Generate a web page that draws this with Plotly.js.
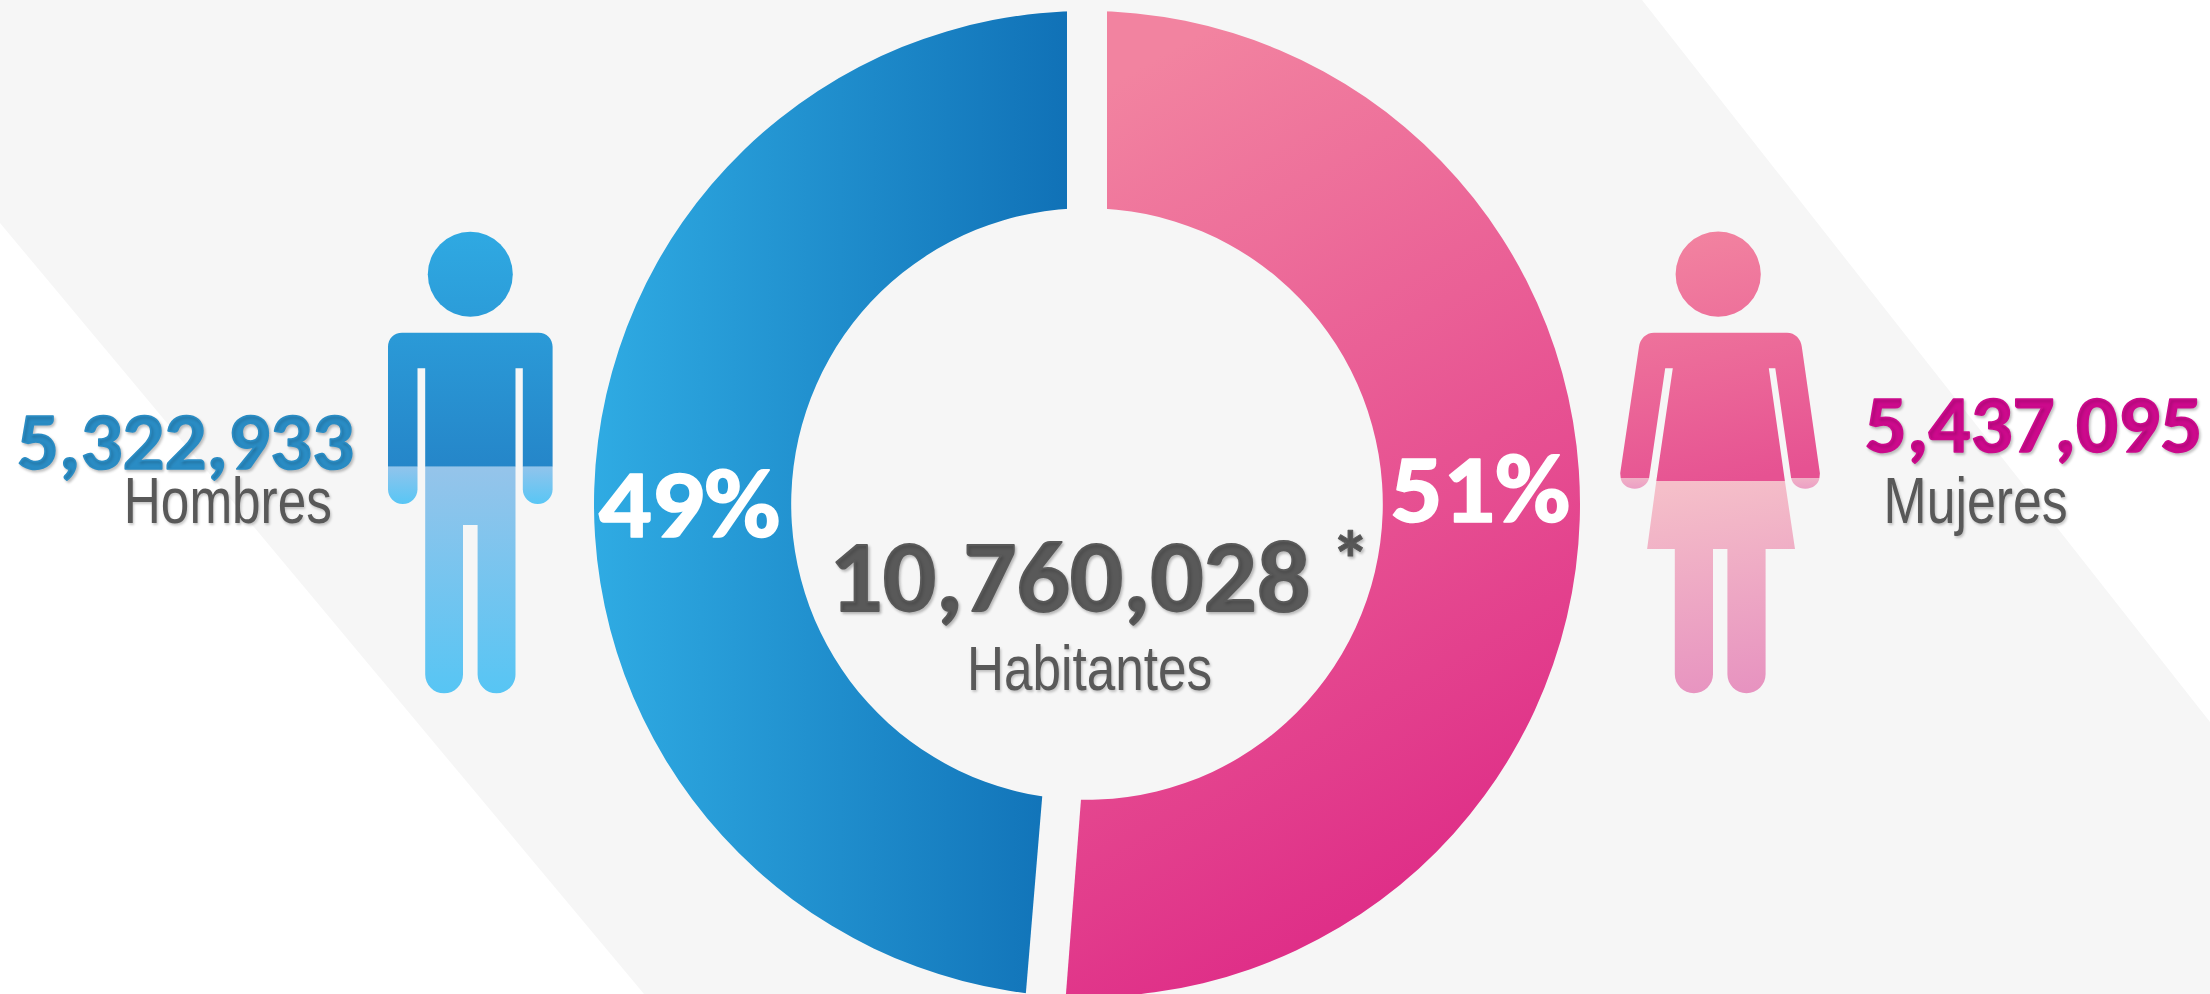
<!DOCTYPE html>
<html><head><meta charset="utf-8">
<script src="https://cdn.plot.ly/plotly-3.0.1.min.js"></script>
<style>html,body{margin:0;padding:0;width:2210px;height:994px;overflow:hidden;background:#fff}#c{width:2210px;height:1000px}</style>
</head><body><div id="c"></div>
<script>
const categories = ['Mujeres', 'Hombres'];
const percents = [51, 49];
const population = [5437095, 5322933];
const total = 10760028;

const W = 2210, H = 1000;
const fmt = n => n.toLocaleString('en-US');
const p = (x, y) => `${x / W},${1 - y / H}`;
const M = (x, y) => `M${p(x, y)}`;
const L = (x, y) => `L${p(x, y)}`;
const C = (a, b, c, d, e, f) => `C${p(a, b)} ${p(c, d)} ${p(e, f)}`;
const cap = (xr, xl, y, r) => {
  const k = 0.5523, m = (xr + xl) / 2;
  return C(xr, y + k * r, m + k * r, y + r, m, y + r) + C(m - k * r, y + r, xl, y + k * r, xl, y);
};
const poly = (pts) => pts.map((q, i) => (i ? L : M)(q[0], q[1])).join('') + 'Z';
const pathShape = (path, fillId, layer) => ({type: 'path', xref: 'paper', yref: 'paper', path, fillcolor: '#888', line: {width: 0}, layer: layer || 'above', _g: fillId});
const circle = (cx, cy, r, fillId) => ({type: 'circle', xref: 'paper', yref: 'paper', x0: (cx - r) / W, x1: (cx + r) / W, y0: 1 - (cy + r) / H, y1: 1 - (cy - r) / H, fillcolor: '#888', line: {width: 0}, layer: 'above', _g: fillId});

const BG = '#f6f6f6';
const flat = (path, color, layer) => ({type: 'path', xref: 'paper', yref: 'paper', path, fillcolor: color, line: {width: 0}, layer});

const shapesRaw = [
  flat(poly([[0, 223], [644, 994], [644, 1000], [0, 1000]]), '#ffffff', 'below'),
  flat(poly([[1642, 0], [2210, 722], [2210, 0]]), '#ffffff', 'below'),
  flat(poly([[1067, 0], [1107, 0], [1107, 230], [1067, 230]]), BG, 'above'),
  flat(poly([[1043.6, 780], [1025.3, 1000], [1065.5, 1000], [1082.5, 780]]), BG, 'above'),
  circle(470.3, 274.2, 42.5, 'manTop'),
  pathShape(M(402, 332.7) + L(538.6, 332.7) + C(546.5, 332.7, 552.6, 338.8, 552.6, 346.7) + L(552.6, 466.7) + L(522.8, 466.7) + L(522.8, 368.3) + L(515.5, 368.3) + L(515.5, 466.7) + L(425.2, 466.7) + L(425.2, 368.3) + L(417.5, 368.3) + L(417.5, 466.7) + L(388, 466.7) + L(388, 346.7) + C(388, 338.8, 394, 332.7, 402, 332.7) + 'Z', 'manTop'),
  pathShape(M(425.2, 466.7) + L(515.5, 466.7) + L(515.5, 674.4) + cap(515.5, 477.6, 674.4, 18.9) + L(477.6, 525) + L(463, 525) + L(463, 674.4) + cap(463, 425.2, 674.4, 18.9) + 'Z', 'manLow'),
  pathShape(M(388, 466.7) + L(417.5, 466.7) + L(417.5, 489.2) + cap(417.5, 388, 489.2, 14.8) + 'Z', 'manTip'),
  pathShape(M(522.8, 466.7) + L(552.6, 466.7) + L(552.6, 489.2) + cap(552.6, 522.8, 489.2, 14.8) + 'Z', 'manTip'),
  circle(1718.2, 274.2, 42.6, 'womTop'),
  pathShape(M(1654, 332.7) + L(1787, 332.7) + C(1795, 332.7, 1801, 339, 1801.8, 346.7) + L(1819.9, 473.3) + L(1819.4, 478) + L(1791.1, 478) + L(1775.3, 368.3) + L(1768.8, 368.3) + L(1784.9, 481) + L(1656.3, 481) + L(1672.8, 368.3) + L(1665.2, 368.3) + L(1649.1, 478) + L(1620.7, 478) + L(1620.2, 473.3) + L(1639, 346.7) + C(1640, 339, 1646, 332.7, 1654, 332.7) + 'Z', 'womTop'),
  pathShape(M(1620.7, 478) + L(1649.1, 478) + C(1647.5, 484.5, 1641.5, 488.7, 1634.8, 488.7) + C(1627, 488.7, 1621.5, 484, 1620.7, 478) + 'Z', 'womTip'),
  pathShape(M(1791.1, 478) + L(1819.4, 478) + C(1818.6, 484, 1813, 488.7, 1805.4, 488.7) + C(1798, 488.7, 1792.5, 484.5, 1791.1, 478) + 'Z', 'womTip'),
  pathShape(M(1656.3, 481) + L(1784.9, 481) + L(1795, 549) + L(1765.6, 549) + L(1765.6, 674.3) + cap(1765.6, 1727.4, 674.3, 19) + L(1727.4, 549) + L(1713, 549) + L(1713, 674.3) + cap(1713, 1674.8, 674.3, 19) + L(1674.8, 549) + L(1647.1, 549) + 'Z', 'womLow')
];
const gradMap = shapesRaw.map(s => s._g);
const shapes = shapesRaw.map(s => { const c = Object.assign({}, s); delete c._g; return c; });

const grads = {
  manTop: {u: 1, c: [470, 232, 470, 467], s: ['#2fa9e2', '#2586c9']},
  manLow: {u: 1, c: [470, 467, 470, 693], s: ['#95c4ea', '#57c5f4']},
  manTip: {u: 1, c: [470, 467, 470, 504], s: ['#90c4ec', '#58c6f5']},
  womTop: {u: 1, c: [1690, 232, 1745, 481], s: ['#f283a0', '#e65292']},
  womLow: {u: 1, c: [1700, 481, 1735, 693], s: ['#f5bfc9', '#e793c0']},
  womTip: {u: 1, c: [1700, 470, 1700, 489], s: ['#f4bcc8', '#eb9fc4']},
  ringBlue: {u: 0, c: [0, 0, 1, 0], s: ['#2fabe3', '#0f6fb5']},
  ringPink: {u: 0, c: [0.35, 0, 0.62, 0.9], s: ['#f283a0', '#df2f88']}
};

const shadow = '1.5px 2px 3px rgba(0,0,0,0.22)';
const heavy = (size, color, sh) => ({family: 'Carlito, Lato, sans-serif', size, color, weight: 700, shadow: sh === undefined ? shadow : sh});
const thin = (size) => ({family: '"Liberation Sans", Arial, sans-serif', size, color: '#595959', shadow});
const note = (x, y, text, font) => ({xref: 'paper', yref: 'paper', x: x / W, y: 1 - y / H, text, font, showarrow: false, xanchor: 'center', yanchor: 'middle', captureevents: false});

const annotations = [
  note(185.5, 441, fmt(population[1]), heavy(80, '#2a8cc4')),
  note(228, 500, categories[1], thin(65)),
  note(2033, 424.5, fmt(population[0]), heavy(80, '#cc0a8c')),
  note(1975, 500, categories[0], thin(65)),
  note(689, 503, percents[1] + '%', heavy(98, '#ffffff', 'none')),
  note(1480, 488, percents[0] + '%', heavy(98, '#ffffff', 'none')),
  note(1069.5, 576, fmt(total), heavy(101, '#595959')),
  note(1350, 560, '*', heavy(78, '#595959')),
  note(1089.5, 668, 'Habitantes', thin(63))
];
// rendered widths of the texts, the reference's type is condensed
const textWidths = [337, 208, 337.5, 184, 182, 180, 481, 0, 245];
// extra stroke that thickens the bold numerals
const strokeWidths = [1.6, 0, 1.6, 0, 1.6, 1.6, 1.8, 1, 0];

const trace = {
  type: 'pie', labels: categories, values: percents, sort: false, direction: 'clockwise', rotation: 0,
  hole: 0.6, textinfo: 'none', hoverinfo: 'label+percent',
  marker: {colors: ['#e65292', '#2586c9'], line: {width: 0}},
  domain: {x: [(1087 - 493) / W, (1087 + 493) / W], y: [1 - (504 + 493) / H, 1 - (504 - 493) / H]},
  showlegend: false
};
const layout = {
  width: W, height: H, margin: {l: 0, r: 0, t: 0, b: 0}, paper_bgcolor: BG, plot_bgcolor: BG,
  showlegend: false, shapes, annotations
};

function paint() {
  const gd = document.getElementById('c');
  const svg = gd.querySelector('svg.main-svg');
  const NS = 'http://www.w3.org/2000/svg';
  let defs = svg.querySelector('defs');
  if (!defs) { defs = document.createElementNS(NS, 'defs'); svg.insertBefore(defs, svg.firstChild); }
  Object.keys(grads).forEach(id => {
    if (document.getElementById(id)) return;
    const g = grads[id], el = document.createElementNS(NS, 'linearGradient');
    el.setAttribute('id', id);
    el.setAttribute('gradientUnits', g.u ? 'userSpaceOnUse' : 'objectBoundingBox');
    ['x1', 'y1', 'x2', 'y2'].forEach((a, i) => el.setAttribute(a, g.c[i]));
    g.s.forEach((col, i) => {
      const st = document.createElementNS(NS, 'stop');
      st.setAttribute('offset', i / (g.s.length - 1));
      st.setAttribute('stop-color', col);
      el.appendChild(st);
    });
    defs.appendChild(el);
  });
  gd.querySelectorAll('.shapelayer path').forEach(el => {
    const id = gradMap[+el.getAttribute('data-index')];
    if (id) el.style.fill = `url(#${id})`;
  });
  const slices = gd.querySelectorAll('.slice path.surface');
  if (slices[0]) slices[0].style.fill = 'url(#ringPink)';
  if (slices[1]) slices[1].style.fill = 'url(#ringBlue)';
  gd.querySelectorAll('.annotation').forEach(a => {
    const i = +a.getAttribute('data-index');
    const t = a.querySelector('text.annotation-text');
    if (!t) return;
    if (textWidths[i]) { t.setAttribute('textLength', textWidths[i]); t.setAttribute('lengthAdjust', 'spacingAndGlyphs'); }
    if (strokeWidths[i]) { t.style.stroke = annotations[i].font.color; t.style.strokeWidth = strokeWidths[i] + 'px'; t.style.strokeLinejoin = 'round'; }
  });
}
Plotly.newPlot('c', [trace], layout, {displayModeBar: false}).then(gd => { paint(); gd.on('plotly_afterplot', paint); });
</script></body></html>
